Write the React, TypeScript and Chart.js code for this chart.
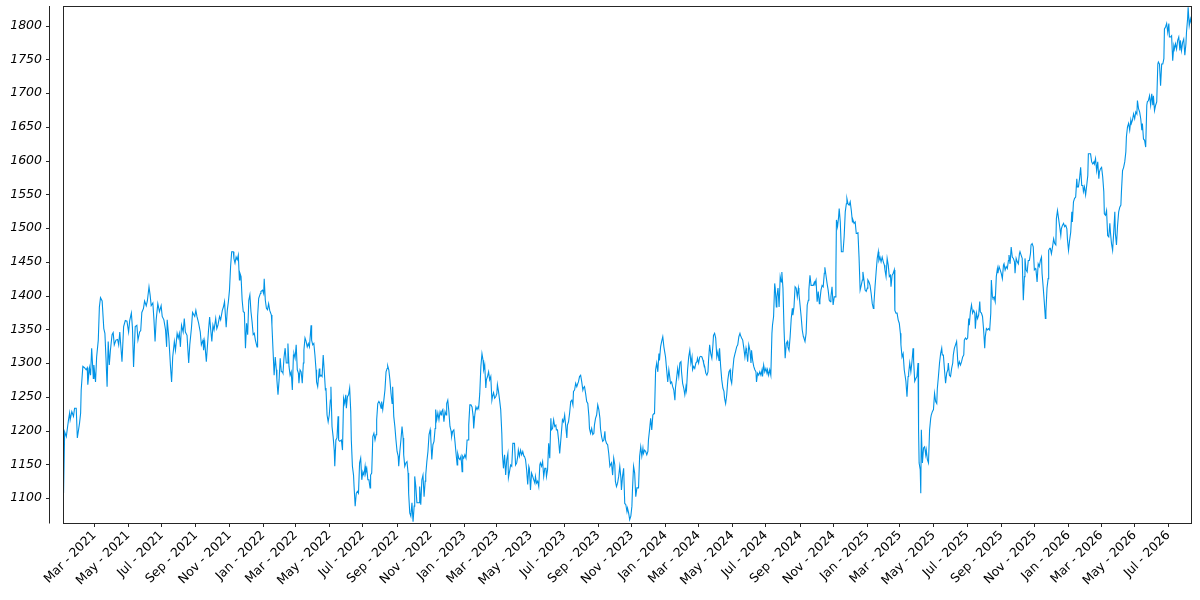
import React, { useEffect, useRef } from "react";
import {
  Chart,
  LineController,
  LineElement,
  PointElement,
  LinearScale,
  type ChartConfiguration,
  type Plugin,
} from "chart.js";

Chart.register(LineController, LineElement, PointElement, LinearScale);

// x = days since 2021-01-01, y = value
const series: [number, number][] = [
  [3, 1107], [5, 1198], [8, 1191], [12, 1216], [14, 1226], [15, 1216], [18, 1228], [21, 1221], [23, 1233], [26, 1233],
  [28, 1189], [32, 1211], [34, 1226], [35, 1260], [38, 1295], [41, 1293], [44, 1290], [46, 1293], [47, 1268], [50, 1293],
  [52, 1282], [54, 1322], [57, 1277], [58, 1297], [61, 1272], [63, 1309], [66, 1334], [68, 1383], [70, 1397], [73, 1392],
  [76, 1351], [78, 1344], [80, 1307], [82, 1265], [84, 1332], [86, 1297], [88, 1319], [91, 1342], [93, 1345], [95, 1327],
  [98, 1334], [101, 1335], [103, 1327], [105, 1346], [109, 1302], [112, 1354], [115, 1363], [118, 1362], [121, 1346], [123, 1363],
  [126, 1374], [128, 1352], [130, 1294], [133, 1354], [136, 1356], [138, 1334], [141, 1346], [143, 1348], [145, 1375], [148, 1381],
  [150, 1392], [153, 1385], [155, 1392], [158, 1413], [160, 1401], [162, 1385], [165, 1389], [167, 1364], [169, 1332], [171, 1364],
  [174, 1388], [177, 1376], [180, 1385], [182, 1369], [185, 1364], [188, 1349], [190, 1324], [191, 1364], [194, 1337], [197, 1295],
  [199, 1272], [201, 1309], [204, 1332], [206, 1319], [209, 1344], [211, 1337], [213, 1344], [215, 1324], [217, 1356], [220, 1346],
  [222, 1366], [224, 1346], [227, 1341], [230, 1300], [232, 1327], [235, 1352], [237, 1375], [241, 1369], [243, 1378], [245, 1369],
  [248, 1359], [251, 1346], [253, 1327], [256, 1334], [257, 1319], [259, 1332], [262, 1302], [265, 1337], [266, 1349], [268, 1368],
  [270, 1349], [272, 1332], [274, 1356], [276, 1349], [279, 1366], [281, 1351], [283, 1356], [286, 1369], [288, 1364], [291, 1378],
  [293, 1383], [295, 1391], [298, 1353], [300, 1378], [302, 1391], [304, 1408], [306, 1443], [308, 1465], [311, 1465], [312, 1455],
  [314, 1448], [316, 1457], [318, 1453], [320, 1460], [322, 1423], [323, 1433], [325, 1428], [327, 1393], [329, 1376], [331, 1375],
  [333, 1322], [335, 1359], [337, 1342], [339, 1393], [341, 1401], [343, 1376], [345, 1361], [347, 1342], [349, 1344], [351, 1334],
  [354, 1324], [355, 1369], [357, 1396], [360, 1403], [361, 1406], [364, 1408], [366, 1403], [367, 1425], [369, 1393], [371, 1381],
  [373, 1379], [375, 1388], [377, 1378], [380, 1371], [381, 1356], [383, 1319], [385, 1282], [387, 1309], [389, 1290], [390, 1275],
  [392, 1253], [394, 1275], [396, 1307], [398, 1287], [400, 1287], [401, 1285], [403, 1309], [405, 1322], [407, 1300], [409, 1300],
  [410, 1329], [412, 1295], [414, 1282], [416, 1287], [418, 1260], [420, 1312], [421, 1314], [423, 1307], [425, 1327], [427, 1290],
  [429, 1285], [430, 1270], [432, 1290], [434, 1287], [436, 1270], [438, 1300], [439, 1319], [441, 1337], [443, 1332], [445, 1324],
  [447, 1329], [449, 1324], [452, 1356], [453, 1334], [455, 1327], [457, 1329], [459, 1312], [461, 1290], [462, 1272], [464, 1265],
  [467, 1292], [468, 1280], [470, 1282], [472, 1280], [474, 1312], [476, 1287], [478, 1260], [479, 1263], [481, 1223], [483, 1213],
  [485, 1223], [487, 1245], [488, 1265], [490, 1206], [492, 1191], [494, 1171], [495, 1147], [497, 1186], [499, 1189], [501, 1221],
  [502, 1186], [504, 1184], [507, 1186], [509, 1171], [511, 1248], [513, 1240], [515, 1253], [516, 1233], [518, 1250], [520, 1253],
  [522, 1263], [524, 1228], [525, 1186], [527, 1147], [529, 1134], [530, 1117], [532, 1088], [534, 1107], [536, 1110], [538, 1107],
  [540, 1152], [542, 1159], [544, 1127], [546, 1139], [548, 1134], [550, 1147], [551, 1137], [553, 1144], [555, 1127], [557, 1127],
  [559, 1115], [560, 1134], [562, 1137], [564, 1191], [566, 1196], [568, 1186], [570, 1194], [571, 1216], [573, 1240], [575, 1243],
  [577, 1240], [579, 1233], [580, 1243], [582, 1231], [584, 1245], [586, 1260], [588, 1287], [590, 1292], [591, 1296], [593, 1290],
  [595, 1275], [597, 1255], [599, 1240], [600, 1265], [602, 1221], [604, 1206], [606, 1186], [608, 1169], [610, 1162], [611, 1147],
  [613, 1169], [615, 1186], [617, 1206], [619, 1189], [620, 1164], [622, 1147], [624, 1152], [626, 1154], [628, 1137], [629, 1107],
  [631, 1078], [633, 1073], [635, 1093], [637, 1065], [639, 1088], [640, 1132], [642, 1117], [644, 1093], [646, 1093], [648, 1093],
  [649, 1117], [651, 1090], [653, 1127], [655, 1134], [657, 1102], [659, 1125], [660, 1134], [662, 1154], [664, 1169], [666, 1194],
  [668, 1201], [669, 1191], [671, 1157], [673, 1179], [675, 1184], [677, 1203], [678, 1231], [680, 1216], [682, 1226], [684, 1216],
  [686, 1228], [688, 1223], [689, 1228], [691, 1231], [693, 1213], [695, 1228], [697, 1223], [698, 1240], [700, 1245], [702, 1228],
  [704, 1206], [706, 1199], [707, 1191], [709, 1199], [711, 1201], [713, 1184], [715, 1166], [717, 1149], [718, 1166], [720, 1159],
  [722, 1157], [724, 1162], [726, 1139], [727, 1162], [729, 1159], [731, 1164], [733, 1159], [735, 1186], [737, 1186], [738, 1208],
  [740, 1238], [742, 1238], [744, 1235], [746, 1221], [747, 1203], [749, 1223], [751, 1235], [753, 1231], [755, 1235], [756, 1233],
  [758, 1255], [760, 1295], [762, 1314], [764, 1304], [765, 1290], [767, 1297], [769, 1263], [770, 1275], [772, 1280], [774, 1287],
  [776, 1275], [778, 1280], [780, 1245], [781, 1250], [783, 1256], [785, 1248], [787, 1250], [789, 1255], [790, 1268], [792, 1258],
  [794, 1245], [796, 1231], [798, 1196], [799, 1166], [801, 1144], [803, 1164], [805, 1134], [807, 1157], [809, 1166], [810, 1130],
  [812, 1139], [814, 1149], [816, 1147], [818, 1181], [819, 1181], [821, 1181], [823, 1149], [825, 1152], [827, 1162], [828, 1171],
  [830, 1162], [832, 1171], [834, 1164], [836, 1169], [838, 1162], [839, 1162], [841, 1157], [843, 1142], [845, 1120], [847, 1147],
  [848, 1144], [850, 1112], [852, 1137], [854, 1132], [856, 1127], [858, 1122], [859, 1132], [861, 1122], [863, 1125], [865, 1117],
  [867, 1149], [868, 1152], [870, 1147], [872, 1154], [874, 1132], [876, 1144], [878, 1144], [879, 1132], [881, 1142], [883, 1181],
  [885, 1159], [887, 1218], [888, 1201], [890, 1203], [892, 1216], [894, 1206], [896, 1208], [897, 1201], [899, 1201], [901, 1186],
  [903, 1166], [905, 1186], [907, 1206], [908, 1216], [910, 1213], [912, 1223], [914, 1206], [916, 1189], [917, 1208], [919, 1213],
  [921, 1226], [923, 1243], [925, 1245], [927, 1238], [928, 1258], [930, 1260], [932, 1270], [934, 1265], [936, 1270], [937, 1272],
  [939, 1280], [941, 1282], [943, 1272], [945, 1260], [946, 1263], [948, 1265], [950, 1255], [952, 1243], [954, 1240], [956, 1221],
  [957, 1203], [959, 1196], [961, 1203], [963, 1194], [965, 1196], [966, 1208], [968, 1218], [970, 1223], [972, 1238], [974, 1231],
  [976, 1218], [977, 1203], [979, 1191], [981, 1184], [983, 1186], [985, 1199], [986, 1186], [988, 1181], [990, 1179], [992, 1166],
  [994, 1147], [995, 1149], [997, 1152], [999, 1134], [1001, 1159], [1003, 1149], [1004, 1125], [1006, 1117], [1008, 1122], [1010, 1132],
  [1012, 1147], [1014, 1130], [1015, 1112], [1017, 1132], [1019, 1144], [1021, 1092], [1023, 1090], [1025, 1080], [1026, 1085], [1028, 1078],
  [1030, 1068], [1032, 1073], [1034, 1088], [1035, 1112], [1037, 1147], [1039, 1137], [1041, 1102], [1043, 1115], [1045, 1115], [1046, 1115],
  [1048, 1162], [1050, 1176], [1052, 1162], [1054, 1174], [1055, 1166], [1057, 1171], [1059, 1169], [1061, 1164], [1063, 1169], [1064, 1186],
  [1066, 1201], [1068, 1218], [1070, 1201], [1072, 1223], [1074, 1225], [1075, 1225], [1077, 1290], [1079, 1300], [1081, 1287], [1083, 1314],
  [1084, 1304], [1086, 1324], [1088, 1332], [1090, 1339], [1092, 1324], [1094, 1314], [1095, 1309], [1097, 1290], [1099, 1272], [1101, 1290],
  [1103, 1277], [1104, 1270], [1106, 1272], [1108, 1265], [1110, 1260], [1112, 1245], [1113, 1263], [1115, 1277], [1117, 1292], [1119, 1280],
  [1121, 1300], [1123, 1302], [1124, 1287], [1126, 1270], [1128, 1263], [1130, 1253], [1132, 1265], [1133, 1260], [1135, 1290], [1137, 1309],
  [1139, 1319], [1141, 1300], [1143, 1309], [1144, 1290], [1146, 1295], [1148, 1292], [1150, 1300], [1152, 1302], [1153, 1307], [1155, 1300],
  [1157, 1309], [1159, 1310], [1161, 1309], [1163, 1304], [1164, 1300], [1166, 1295], [1168, 1285], [1170, 1282], [1172, 1287], [1173, 1304],
  [1175, 1327], [1177, 1314], [1179, 1307], [1181, 1327], [1182, 1341], [1184, 1344], [1186, 1337], [1188, 1309], [1190, 1317], [1192, 1304],
  [1193, 1322], [1195, 1295], [1197, 1275], [1199, 1263], [1201, 1258], [1202, 1248], [1204, 1240], [1206, 1253], [1208, 1275], [1210, 1287],
  [1212, 1290], [1213, 1277], [1215, 1270], [1217, 1290], [1219, 1307], [1221, 1314], [1222, 1317], [1224, 1324], [1226, 1327], [1228, 1339],
  [1230, 1344], [1231, 1341], [1233, 1337], [1235, 1334], [1237, 1322], [1239, 1309], [1241, 1322], [1242, 1317], [1244, 1302], [1246, 1327],
  [1248, 1319], [1250, 1300], [1251, 1319], [1253, 1304], [1255, 1295], [1257, 1290], [1259, 1287], [1260, 1272], [1262, 1285], [1264, 1282],
  [1266, 1287], [1268, 1282], [1270, 1290], [1271, 1280], [1273, 1297], [1275, 1287], [1277, 1292], [1279, 1285], [1280, 1290], [1282, 1282],
  [1284, 1290], [1286, 1282], [1288, 1344], [1289, 1356], [1291, 1369], [1293, 1418], [1294, 1411], [1296, 1383], [1297, 1398], [1299, 1411],
  [1301, 1383], [1303, 1428], [1305, 1420], [1306, 1435], [1308, 1411], [1310, 1349], [1312, 1307], [1314, 1329], [1316, 1332], [1317, 1324],
  [1319, 1319], [1321, 1339], [1323, 1366], [1325, 1381], [1326, 1371], [1328, 1383], [1330, 1413], [1332, 1411], [1334, 1398], [1336, 1411],
  [1337, 1403], [1339, 1386], [1341, 1369], [1343, 1349], [1345, 1339], [1346, 1337], [1348, 1332], [1350, 1344], [1352, 1386], [1354, 1393],
  [1355, 1408], [1357, 1430], [1359, 1415], [1361, 1415], [1363, 1415], [1365, 1420], [1366, 1418], [1368, 1423], [1370, 1391], [1372, 1406],
  [1374, 1388], [1375, 1393], [1377, 1408], [1379, 1415], [1381, 1413], [1383, 1433], [1384, 1442], [1386, 1430], [1388, 1418], [1390, 1408],
  [1392, 1393], [1394, 1391], [1395, 1398], [1397, 1413], [1399, 1386], [1401, 1398], [1403, 1398], [1404, 1430], [1405, 1512], [1407, 1502],
  [1409, 1517], [1410, 1529], [1412, 1509], [1414, 1465], [1415, 1465], [1417, 1465], [1419, 1487], [1421, 1524], [1423, 1536], [1424, 1544],
  [1426, 1536], [1428, 1534], [1430, 1539], [1432, 1526], [1434, 1509], [1435, 1512], [1437, 1507], [1439, 1509], [1441, 1492], [1443, 1492],
  [1444, 1494], [1446, 1457], [1448, 1408], [1450, 1415], [1452, 1423], [1453, 1435], [1455, 1423], [1457, 1408], [1459, 1406], [1461, 1411],
  [1462, 1423], [1464, 1420], [1466, 1415], [1468, 1403], [1470, 1388], [1472, 1381], [1473, 1388], [1475, 1413], [1477, 1435], [1479, 1455],
  [1481, 1465], [1482, 1452], [1484, 1457], [1486, 1450], [1488, 1457], [1490, 1450], [1492, 1445], [1493, 1438], [1495, 1428], [1497, 1455],
  [1499, 1445], [1501, 1428], [1503, 1430], [1504, 1413], [1506, 1430], [1508, 1433], [1510, 1438], [1511, 1378], [1513, 1374], [1515, 1374],
  [1517, 1364], [1519, 1359], [1521, 1344], [1522, 1327], [1524, 1309], [1526, 1314], [1528, 1290], [1531, 1273], [1533, 1250], [1535, 1280],
  [1536, 1285], [1538, 1300], [1540, 1287], [1542, 1302], [1544, 1322], [1545, 1304], [1547, 1273], [1549, 1277], [1551, 1280], [1553, 1300],
  [1554, 1201], [1555, 1152], [1557, 1142], [1558, 1107], [1559, 1201], [1561, 1152], [1563, 1174], [1565, 1176], [1567, 1164], [1568, 1171],
  [1570, 1157], [1572, 1152], [1574, 1201], [1576, 1218], [1577, 1223], [1579, 1228], [1581, 1231], [1583, 1255], [1585, 1243], [1587, 1240],
  [1588, 1262], [1590, 1280], [1592, 1300], [1594, 1314], [1596, 1322], [1597, 1312], [1599, 1312], [1601, 1290], [1603, 1270], [1605, 1285],
  [1607, 1290], [1608, 1300], [1610, 1282], [1612, 1280], [1614, 1292], [1616, 1300], [1617, 1312], [1619, 1322], [1621, 1327], [1623, 1332],
  [1625, 1304], [1626, 1295], [1628, 1302], [1630, 1297], [1632, 1302], [1634, 1309], [1636, 1312], [1637, 1334], [1639, 1337], [1641, 1335],
  [1643, 1337], [1645, 1366], [1646, 1356], [1648, 1376], [1650, 1386], [1652, 1374], [1654, 1378], [1656, 1374], [1657, 1351], [1659, 1374],
  [1661, 1366], [1663, 1371], [1665, 1391], [1666, 1376], [1668, 1374], [1670, 1369], [1672, 1349], [1674, 1322], [1675, 1339], [1677, 1351],
  [1679, 1349], [1681, 1351], [1683, 1349], [1685, 1374], [1686, 1423], [1688, 1398], [1689, 1396], [1691, 1398], [1693, 1391], [1695, 1428],
  [1697, 1440], [1698, 1433], [1700, 1443], [1702, 1438], [1704, 1433], [1706, 1425], [1708, 1445], [1709, 1447], [1711, 1438], [1713, 1443],
  [1715, 1440], [1717, 1452], [1718, 1460], [1720, 1447], [1722, 1472], [1724, 1457], [1726, 1455], [1728, 1450], [1729, 1433], [1731, 1455],
  [1733, 1450], [1735, 1447], [1737, 1462], [1738, 1465], [1740, 1460], [1742, 1455], [1744, 1393], [1746, 1428], [1747, 1455], [1749, 1438],
  [1751, 1435], [1753, 1452], [1755, 1452], [1757, 1462], [1758, 1475], [1760, 1477], [1762, 1472], [1764, 1438], [1766, 1440], [1767, 1438],
  [1769, 1420], [1771, 1447], [1773, 1443], [1775, 1452], [1777, 1457], [1778, 1433], [1780, 1413], [1782, 1391], [1784, 1366], [1785, 1376],
  [1787, 1411], [1789, 1425], [1790, 1467], [1792, 1470], [1793, 1470], [1795, 1462], [1797, 1472], [1799, 1484], [1801, 1477], [1803, 1475],
  [1804, 1514], [1806, 1526], [1808, 1514], [1810, 1502], [1812, 1489], [1813, 1499], [1815, 1504], [1817, 1507], [1819, 1502], [1821, 1504],
  [1823, 1499], [1824, 1484], [1826, 1467], [1828, 1482], [1830, 1494], [1832, 1524], [1833, 1509], [1835, 1539], [1837, 1544], [1839, 1546],
  [1841, 1573], [1842, 1561], [1844, 1561], [1846, 1573], [1848, 1590], [1850, 1563], [1852, 1563], [1853, 1554], [1855, 1561], [1857, 1549],
  [1859, 1563], [1861, 1578], [1862, 1610], [1864, 1610], [1866, 1610], [1868, 1598], [1870, 1595], [1872, 1598], [1873, 1595], [1875, 1603],
  [1877, 1585], [1879, 1598], [1881, 1573], [1882, 1583], [1884, 1588], [1886, 1590], [1888, 1576], [1890, 1554], [1891, 1521], [1893, 1519],
  [1895, 1526], [1897, 1489], [1899, 1487], [1901, 1507], [1902, 1494], [1904, 1477], [1906, 1467], [1908, 1494], [1910, 1524], [1911, 1492],
  [1913, 1475], [1915, 1504], [1917, 1524], [1919, 1531], [1921, 1534], [1922, 1554], [1924, 1585], [1926, 1590], [1928, 1598], [1930, 1613],
  [1931, 1635], [1933, 1650], [1935, 1655], [1937, 1645], [1939, 1660], [1940, 1655], [1942, 1660], [1944, 1669], [1946, 1662], [1948, 1672],
  [1950, 1669], [1951, 1689], [1953, 1677], [1955, 1672], [1957, 1662], [1959, 1645], [1960, 1655], [1962, 1632], [1964, 1630], [1966, 1620],
  [1968, 1682], [1969, 1687], [1971, 1689], [1973, 1696], [1975, 1682], [1977, 1699], [1979, 1682], [1980, 1696], [1982, 1674], [1984, 1682],
  [1986, 1687], [1988, 1743], [1989, 1746], [1991, 1743], [1993, 1711], [1995, 1743], [1997, 1743], [1999, 1751], [2000, 1795], [2002, 1798],
  [2004, 1803], [2006, 1790], [2008, 1803], [2009, 1783], [2011, 1783], [2013, 1785], [2015, 1748], [2017, 1770], [2018, 1765], [2020, 1773],
  [2022, 1765], [2024, 1778], [2026, 1783], [2028, 1763], [2029, 1778], [2031, 1763], [2033, 1775], [2035, 1780], [2037, 1756], [2039, 1773],
  [2040, 1790], [2042, 1810], [2043, 1827], [2045, 1800], [2047, 1810], [2049, 1803],
];

const xTickLabels = [
  "Mar - 2021", "May - 2021", "Jul - 2021", "Sep - 2021", "Nov - 2021",
  "Jan - 2022", "Mar - 2022", "May - 2022", "Jul - 2022", "Sep - 2022", "Nov - 2022",
  "Jan - 2023", "Mar - 2023", "May - 2023", "Jul - 2023", "Sep - 2023", "Nov - 2023",
  "Jan - 2024", "Mar - 2024", "May - 2024", "Jul - 2024", "Sep - 2024", "Nov - 2024",
  "Jan - 2025", "Mar - 2025", "May - 2025", "Jul - 2025", "Sep - 2025", "Nov - 2025",
  "Jan - 2026", "Mar - 2026", "May - 2026", "Jul - 2026",
];

const yTicks = [1100, 1150, 1200, 1250, 1300, 1350, 1400, 1450, 1500, 1550, 1600, 1650, 1700, 1750, 1800];

const MONTHS = ["Jan", "Feb", "Mar", "Apr", "May", "Jun", "Jul", "Aug", "Sep", "Oct", "Nov", "Dec"];
const ORIGIN = Date.UTC(2021, 0, 1);

function labelToDay(label: string) {
  const [mon, year] = label.split(" - ");
  return (Date.UTC(Number(year), MONTHS.indexOf(mon), 1) - ORIGIN) / 86400000;
}

const AXIS_COLOR = "#262626";

// box round the plot, plus the y spine set apart to the left with its own ticks
const framePlugin: Plugin<"line"> = {
  id: "frame",
  afterDraw(chart) {
    const { ctx, chartArea: a } = chart;
    const yScale = chart.scales.y;
    ctx.save();
    ctx.strokeStyle = AXIS_COLOR;
    ctx.lineWidth = 1;
    ctx.strokeRect(a.left + 0.5, a.top + 0.5, a.right - a.left - 1, a.bottom - a.top);
    const sx = a.left - 14 + 0.5;
    ctx.beginPath();
    ctx.moveTo(sx, a.top);
    ctx.lineTo(sx, a.bottom + 0.5);
    for (const t of yTicks) {
      const py = Math.round(yScale.getPixelForValue(t)) + 0.5;
      ctx.moveTo(sx - 3.5, py);
      ctx.lineTo(sx, py);
    }
    ctx.stroke();
    ctx.restore();
  },
};

export default function App() {
  const canvasRef = useRef<HTMLCanvasElement | null>(null);
  const chartRef = useRef<Chart<"line"> | null>(null);

  useEffect(() => {
    document.body.style.margin = "0";
    if (!canvasRef.current) return;

    const config: ChartConfiguration<"line"> = {
      type: "line",
      data: {
        datasets: [
          {
            data: series.map(([d, v]) => ({ x: d, y: v })),
            borderColor: "rgb(0, 147, 230)",
            borderWidth: 1.1,
            pointRadius: 0,
            tension: 0,
            fill: false,
          },
        ],
      },
      options: {
        responsive: true,
        maintainAspectRatio: false,
        animation: false,
        layout: { padding: { top: 6, right: 8, left: 0, bottom: 0 } },
        plugins: {
          legend: { display: false },
          tooltip: { enabled: false },
        },
        scales: {
          x: {
            type: "linear",
            min: 2,
            max: 2050,
            afterBuildTicks: (scale) => {
              scale.ticks = xTickLabels.map((l) => ({ value: labelToDay(l) }));
            },
            afterFit: (scale) => {
              scale.height = 77;
            },
            ticks: {
              callback: (_v, i) => xTickLabels[i],
              autoSkip: false,
              maxRotation: 45,
              minRotation: 45,
              padding: 1,
              color: "#000",
              font: { family: "DejaVu Sans", size: 12.5 },
            },
            grid: {
              drawOnChartArea: false,
              drawTicks: true,
              tickLength: 4,
              color: AXIS_COLOR,
              lineWidth: 1,
            },
            border: { display: false },
          },
          y: {
            type: "linear",
            min: 1063,
            max: 1829,
            afterBuildTicks: (scale) => {
              scale.ticks = yTicks.map((v) => ({ value: v }));
            },
            afterFit: (scale) => {
              scale.width = 63;
              // the label padding should not push the plot down from the top
              scale.paddingTop = 0;
              scale.paddingBottom = 0;
            },
            ticks: {
              callback: (v) => String(v),
              padding: 21,
              color: "#000",
              font: { family: "DejaVu Sans", size: 12.5, style: "italic" },
            },
            grid: { display: false, drawTicks: false },
            border: { display: false },
          },
        },
      },
      plugins: [framePlugin],
    };

    chartRef.current = new Chart(canvasRef.current, config);

    return () => {
      chartRef.current?.destroy();
      chartRef.current = null;
    };
  }, []);

  return (
    <div style={{ width: 1200, height: 600, position: "relative" }}>
      <canvas ref={canvasRef} aria-label="Daily value chart, 2021 to 2026" />
    </div>
  );
}
